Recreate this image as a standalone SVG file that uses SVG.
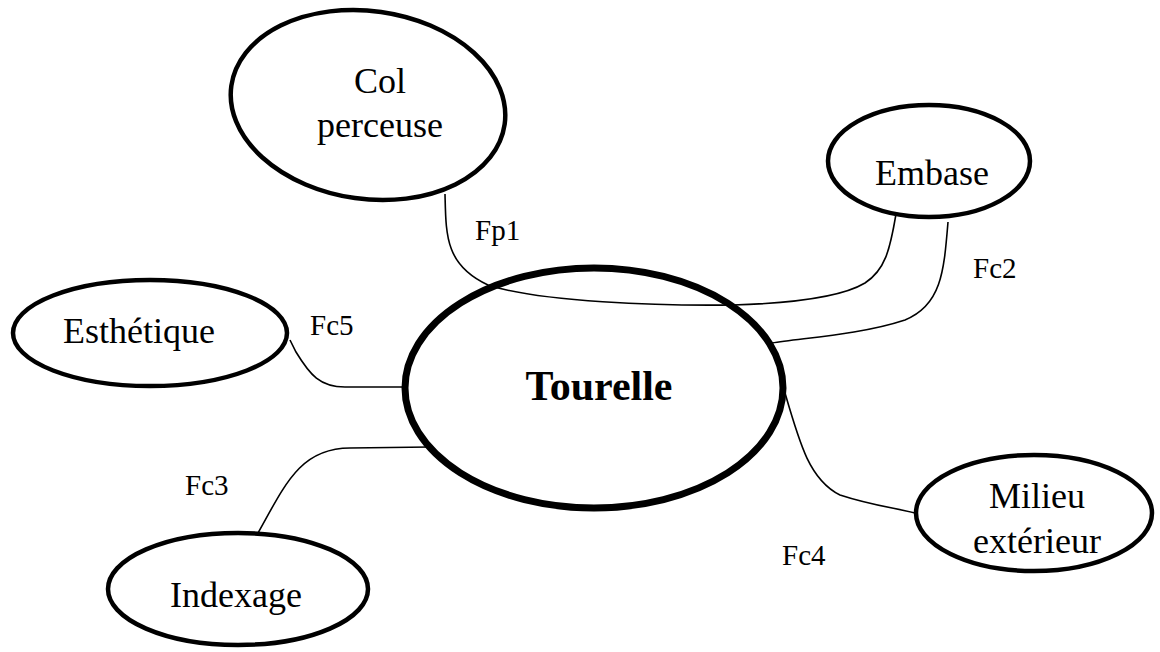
<svg xmlns="http://www.w3.org/2000/svg" width="1160" height="652" viewBox="0 0 1160 652">
<style>
.node{fill:#fff;stroke:#000;stroke-width:4.5}
.main{fill:none;stroke:#000;stroke-width:7}
.conn{fill:none;stroke:#000;stroke-width:1.6}
text{font-family:"Liberation Serif","Times New Roman",serif;fill:#000}
.lbl{font-size:36px;text-anchor:middle}
.fl{font-size:29px}
.big{font-size:42px;font-weight:bold;text-anchor:middle}
</style>
<rect width="1160" height="652" fill="#fff"/>
<g id="col"><ellipse class="node" cx="368" cy="105" rx="138" ry="94" transform="rotate(8 368 105)"/><text class="lbl" x="380" y="93">Col</text><text class="lbl" x="380" y="137">perceuse</text></g>
<g id="embase"><ellipse class="node" cx="929" cy="161" rx="101" ry="56"/><text class="lbl" x="932" y="185">Embase</text></g>
<g id="esthetique"><ellipse class="node" cx="150" cy="333" rx="137" ry="53"/><text class="lbl" x="139" y="343">Esthétique</text></g>
<g id="indexage"><ellipse class="node" cx="238" cy="589" rx="130" ry="56"/><text class="lbl" x="236" y="607">Indexage</text></g>
<g id="milieu"><ellipse class="node" cx="1034" cy="513" rx="118" ry="58"/><text class="lbl" x="1037" y="508">Milieu</text><text class="lbl" x="1037" y="553">extérieur</text></g>
<g id="connectors">
<path class="conn" d="M445,194 C446,235 445,265 488,285 C540,302 660,306 733,305 C800,303 845,295 865,283 C885,270 890,250 896,214"/>
<path class="conn" d="M948,222 C944,270 942,305 905,320 C860,335 800,338 772,343"/>
<path class="conn" d="M290,340 L296,352 C310,375 320,387 345,387 L405,387"/>
<path class="conn" d="M258,533 C285,485 300,448 350,448 L430,447"/>
<path class="conn" d="M785,393 C800,445 810,480 840,495 C870,505 895,508 915,513"/>
</g>
<g id="tourelle"><ellipse class="main" cx="594" cy="388" rx="189" ry="120"/><text class="big" x="599" y="400">Tourelle</text></g>
<g id="labels">
<text class="fl" x="475" y="240">Fp1</text>
<text class="fl" x="973" y="278">Fc2</text>
<text class="fl" x="310" y="335">Fc5</text>
<text class="fl" x="185" y="495">Fc3</text>
<text class="fl" x="782" y="565">Fc4</text>
</g>
</svg>
